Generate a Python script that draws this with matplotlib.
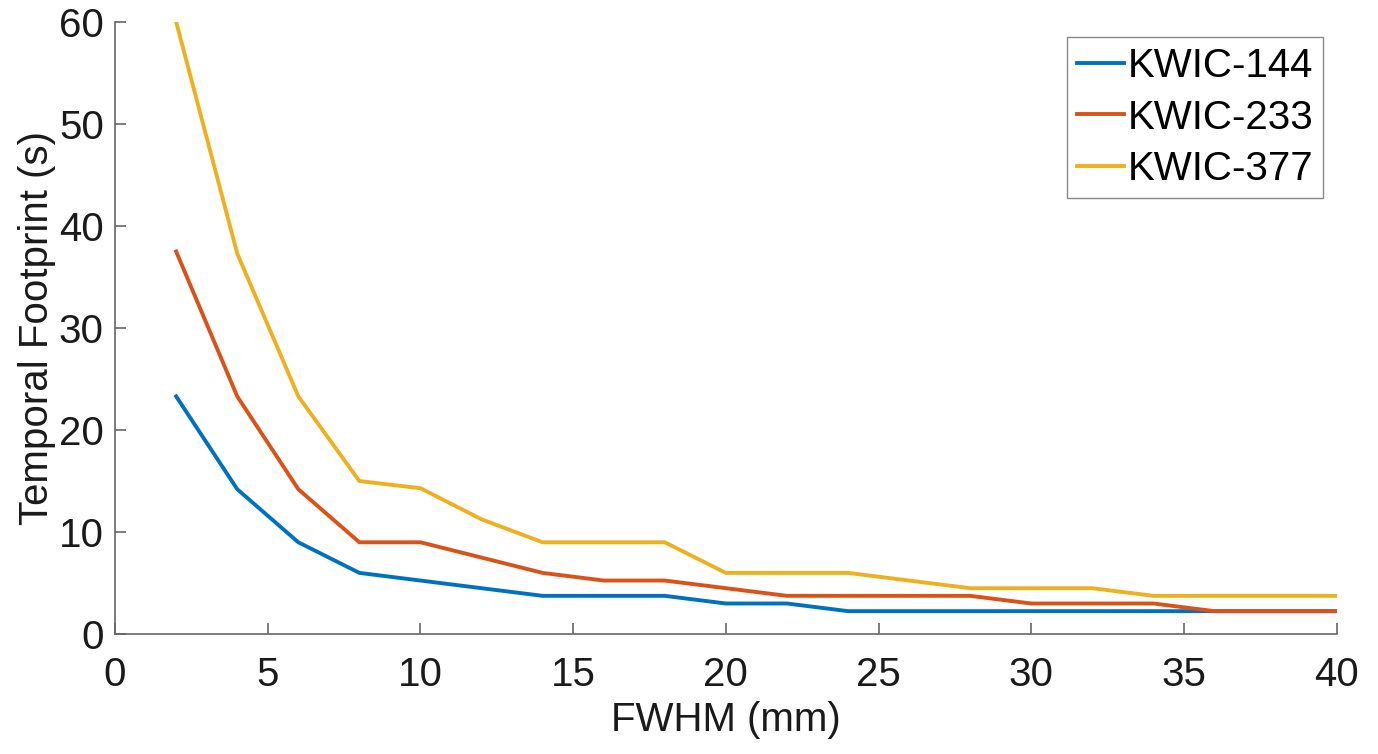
import matplotlib
matplotlib.use('Agg')
import matplotlib.pyplot as plt

plt.rcParams['font.family'] = ['Liberation Sans', 'DejaVu Sans']

# FWHM (mm)
fwhm = [2, 4, 6, 8, 10, 12, 14, 16, 18, 20, 22, 24, 26, 28, 30, 32, 34, 36, 38, 40]

# temporal footprint (s) per KWIC scheme
kwic_144 = [23.3, 14.2, 9.0, 6.0, 5.25, 4.5, 3.75, 3.75, 3.75, 3.0,
            3.0, 2.25, 2.25, 2.25, 2.25, 2.25, 2.25, 2.25, 2.25, 2.25]
kwic_233 = [37.5, 23.3, 14.2, 9.0, 9.0, 7.5, 6.0, 5.25, 5.25, 4.5,
            3.75, 3.75, 3.75, 3.75, 3.0, 3.0, 3.0, 2.25, 2.25, 2.25]
kwic_377 = [60.0, 37.3, 23.3, 15.0, 14.3, 11.25, 9.0, 9.0, 9.0, 6.0,
            6.0, 6.0, 5.25, 4.5, 4.5, 4.5, 3.75, 3.75, 3.75, 3.75]

labels = ['KWIC-144', 'KWIC-233', 'KWIC-377']
colors = ['#0072BD', '#D95319', '#EDB120']

fs = 29

fig = plt.figure(figsize=(13.78, 7.54), dpi=100)
ax = fig.add_axes([0.0835, 0.159, 0.8865, 0.812])

for ys, lab, c in zip([kwic_144, kwic_233, kwic_377], labels, colors):
    ax.plot(fwhm, ys, color=c, linewidth=2.8, label=lab)

ax.set_xlim(0, 40)
ax.set_ylim(0, 60)
ax.set_xticks(range(0, 41, 5))
ax.set_yticks(range(0, 61, 10))

# matlab-like axes
for s in ['top', 'right']:
    ax.spines[s].set_visible(False)
for s in ['left', 'bottom']:
    ax.spines[s].set_color('#666666')
    ax.spines[s].set_linewidth(1.2)
ax.tick_params(direction='in', length=8, width=1.2, color='#666666',
               labelsize=fs, labelcolor='#1a1a1a')
ax.tick_params(axis='x', pad=16)
ax.tick_params(axis='y', pad=8)

ax.set_xlabel('FWHM (mm)', fontsize=fs, color='#1a1a1a', labelpad=5)
ax.set_ylabel('Temporal Footprint (s)', fontsize=fs, color='#1a1a1a', labelpad=2)

leg = ax.legend(loc='upper right', fontsize=fs, handlelength=1.17, handletextpad=0.08,
                borderpad=0.25, labelspacing=0.33, borderaxespad=0, fancybox=False,
                framealpha=1, bbox_to_anchor=(0.989, 0.975))
leg.get_frame().set_edgecolor('#888888')
leg.get_frame().set_linewidth(1.0)

fig.savefig('out.png', dpi=100)
